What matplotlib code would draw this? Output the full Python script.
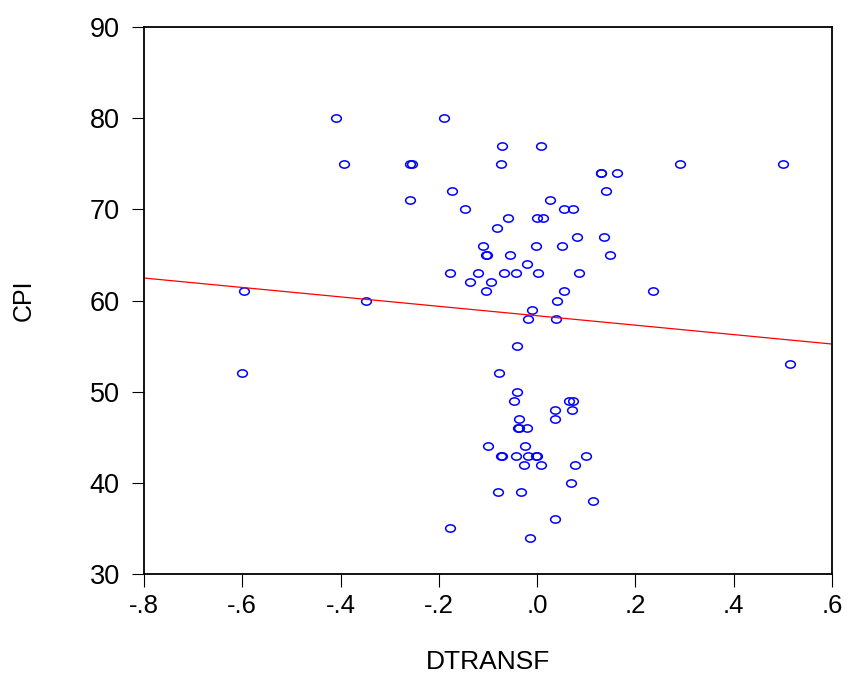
import numpy as np
import matplotlib
matplotlib.use("Agg")
import matplotlib.pyplot as plt
from matplotlib.path import Path
from matplotlib.transforms import Affine2D

plt.rcParams['font.family'] = ['Liberation Sans', 'DejaVu Sans']

# scatter data
dtransf = [-0.409, -0.394, -0.259, -0.254, -0.259, -0.597, -0.349, -0.601,
           -0.189, -0.071, 0.008, -0.074, 0.129, 0.131, 0.163, 0.291, 0.501,
           -0.173, 0.140, -0.147, 0.026, 0.054, 0.073, -0.060, -0.001, 0.011,
           -0.082, -0.111, -0.003, 0.050, 0.081, 0.137, -0.105, -0.103, -0.056, 0.148,
           -0.020, -0.177, -0.120, -0.067, -0.044, 0.002, 0.085, -0.137, -0.093,
           -0.105, 0.055, 0.235, 0.041, -0.010, -0.018, 0.039,
           -0.040, -0.078, 0.515, -0.040, -0.047, 0.064, 0.072, 0.036, 0.071,
           -0.036, 0.036, -0.038, -0.036, -0.020, -0.100, -0.025, -0.073, -0.072,
           -0.043, -0.018, -0.003, 0.000, 0.100, -0.027, 0.008, 0.078, 0.068,
           -0.079, -0.032, 0.113, 0.036, -0.178, -0.014]
cpi = [80, 75, 75, 75, 71, 61, 60, 52,
       80, 77, 77, 75, 74, 74, 74, 75, 75,
       72, 72, 70, 71, 70, 70, 69, 69, 69,
       68, 66, 66, 66, 67, 67, 65, 65, 65, 65,
       64, 63, 63, 63, 63, 63, 63, 62, 62,
       61, 61, 61, 60, 59, 58, 58,
       55, 52, 53, 50, 49, 49, 49, 48, 48,
       47, 47, 46, 46, 46, 44, 44, 43, 43,
       43, 43, 43, 43, 43, 42, 42, 42, 40,
       39, 39, 38, 36, 35, 34]

# fitted regression line
fit_intercept = 58.33
fit_slope = -5.17

x_ticks = [-0.8, -0.6, -0.4, -0.2, 0.0, 0.2, 0.4, 0.6]
x_tick_labels = ["-.8", "-.6", "-.4", "-.2", ".0", ".2", ".4", ".6"]
y_ticks = [30, 40, 50, 60, 70, 80, 90]

fig = plt.figure(figsize=(8.48, 6.77), dpi=100)
ax = fig.add_axes([0.1698, 0.1521, 0.8113, 0.808])

# slightly flattened circle marker
ellipse = Path.unit_circle().transformed(Affine2D().scale(1.0, 0.75))
ax.plot(dtransf, cpi, linestyle='none', marker=ellipse, markersize=7,
        markerfacecolor='none', markeredgecolor='#0000ff', markeredgewidth=1.1)

line_x = np.array([-0.8, 0.6])
ax.plot(line_x, fit_intercept + fit_slope * line_x, color='red', linewidth=0.9)

ax.set_xlim(-0.8, 0.6)
ax.set_ylim(30, 90)
ax.set_xticks(x_ticks)
ax.set_xticklabels(x_tick_labels)
ax.set_yticks(y_ticks)
ax.tick_params(direction='out', length=9, width=0.8, top=False, right=False)
ax.tick_params(axis='x', labelsize=18.5, pad=5.5)
ax.tick_params(axis='y', labelsize=19.5, pad=8.5)
for s in ax.spines.values():
    s.set_linewidth(1.3)

ax.set_xlabel("DTRANSF", fontsize=19, labelpad=23)
ax.set_ylabel("CPI", fontsize=18, labelpad=39)

fig.savefig("out.png", dpi=100)
